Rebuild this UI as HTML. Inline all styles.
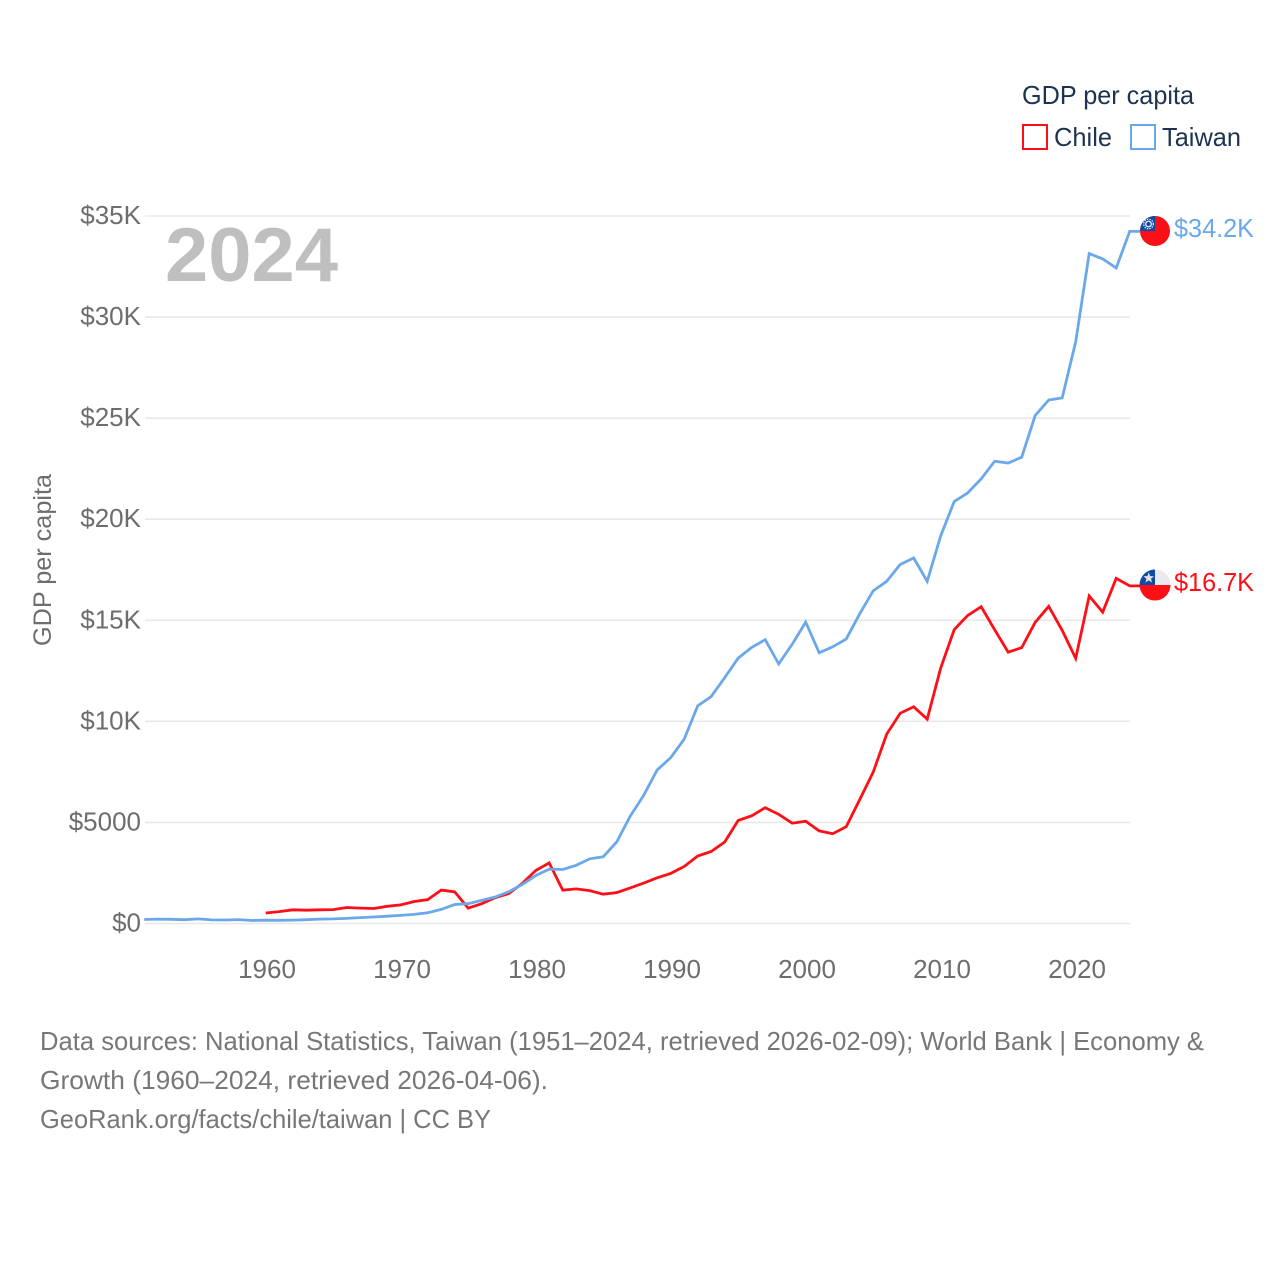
<!DOCTYPE html>
<html lang="en">
<head>
<meta charset="utf-8">
<title>GDP per capita: Chile and Taiwan</title>
<style>
html,body{margin:0;padding:0;background:#fff;}
svg{display:block;}
text{font-family:"Liberation Sans",sans-serif;}
</style>
</head>
<body>
<svg id="chart" xmlns="http://www.w3.org/2000/svg" width="1280" height="1280" viewBox="0 0 1280 1280">
  <rect x="0" y="0" width="1280" height="1280" fill="#fff"/>
  <g id="grid"></g>
  <g id="y-ticks"></g>
  <g id="x-ticks"></g>
  <text x="165" y="281" font-size="76" font-weight="700" fill="#bfbfbf" textLength="173" lengthAdjust="spacingAndGlyphs">2024</text>
  <text transform="translate(51,646) rotate(-90)" font-size="25" fill="#6d6d6d" textLength="172" lengthAdjust="spacingAndGlyphs">GDP per capita</text>
  <g id="lines"></g>

  <g>
    <clipPath id="clip-tw"><circle cx="1155" cy="231" r="15"/></clipPath>
    <g clip-path="url(#clip-tw)">
      <rect x="1140" y="216" width="30" height="30" fill="#fe0f17"/>
      <rect x="1140" y="216" width="15" height="15" fill="#0f4aa6"/>
      <circle cx="1148.5" cy="224" r="2.8" fill="none" stroke="#fff" stroke-width="1.2"/>
      <circle cx="1148.5" cy="224" r="4.8" fill="none" stroke="#fff" stroke-width="1.2" stroke-dasharray="1.4 1.2"/>
    </g>
  </g>
  <g>
    <clipPath id="clip-cl"><circle cx="1155" cy="585" r="15.5"/></clipPath>
    <g clip-path="url(#clip-cl)">
      <rect x="1139" y="569" width="32" height="16" fill="#e9e9ee"/>
      <rect x="1139" y="585" width="32" height="17" fill="#fe0f17"/>
      <rect x="1139" y="569" width="16" height="16" fill="#0f4aa6"/>
      <polygon points="1148.7,572.4 1150.1,576.1 1154,576.3 1151,578.7 1152,582.5 1148.7,580.4 1145.4,582.5 1146.4,578.7 1143.4,576.3 1147.3,576.1" fill="#e2e2e8"/>
    </g>
  </g>

  <text id="taiwan-value" x="1174" y="237" font-size="25.5" fill="#6aa8ea" textLength="80" lengthAdjust="spacingAndGlyphs"></text>
  <text id="chile-value" x="1174" y="591" font-size="25.5" fill="#fe0f17" textLength="80" lengthAdjust="spacingAndGlyphs"></text>

  <g>
    <text x="1022" y="104" font-size="26" fill="#1d3350" textLength="172" lengthAdjust="spacingAndGlyphs">GDP per capita</text>
    <g>
      <rect x="1023" y="125" width="24" height="24" fill="none" stroke="#fe0f17" stroke-width="2"/>
      <text x="1054" y="146" font-size="26" fill="#1d3350" textLength="58" lengthAdjust="spacingAndGlyphs">Chile</text>
    </g>
    <g>
      <rect x="1131" y="125" width="24" height="24" fill="none" stroke="#6aa8ea" stroke-width="2"/>
      <text x="1162" y="146" font-size="26" fill="#1d3350" textLength="79" lengthAdjust="spacingAndGlyphs">Taiwan</text>
    </g>
  </g>

  <g font-size="26" fill="#777">
    <text x="40" y="1050" textLength="1164" lengthAdjust="spacingAndGlyphs">Data sources: National Statistics, Taiwan (1951–2024, retrieved 2026-02-09); World Bank | Economy &amp;</text>
    <text x="40" y="1089" textLength="508" lengthAdjust="spacingAndGlyphs">Growth (1960–2024, retrieved 2026-04-06).</text>
    <text x="40" y="1128" textLength="451" lengthAdjust="spacingAndGlyphs">GeoRank.org/facts/chile/taiwan | CC BY</text>
  </g>
</svg>
<script>
const yTickValues = [0, 5000, 10000, 15000, 20000, 25000, 30000, 35000];
const yTickLabels = ["$0", "$5000", "$10K", "$15K", "$20K", "$25K", "$30K", "$35K"];
const xTickYears = [1960, 1970, 1980, 1990, 2000, 2010, 2020];
const taiwanStartYear = 1951;
const taiwanValues = [196, 220, 210, 190, 230, 180, 175, 195, 150, 165, 160, 170, 190, 220, 230, 250, 290, 320, 360, 400, 450, 530, 700, 940, 980, 1150, 1310, 1570, 1930, 2370, 2690, 2670, 2880, 3200, 3300, 4030, 5310, 6340, 7600, 8200, 9120, 10770, 11230, 12160, 13130, 13660, 14040, 12840, 13810, 14910, 13390, 13690, 14070, 15320, 16460, 16930, 17760, 18080, 16930, 19180, 20870, 21300, 22000, 22870, 22780, 23070, 25130, 25900, 26000, 28780, 33140, 32880, 32430, 34240];
const chileStartYear = 1960;
const chileValues = [520, 590, 680, 660, 680, 690, 790, 760, 740, 850, 920, 1090, 1180, 1650, 1570, 760, 980, 1280, 1480, 1980, 2620, 3000, 1650, 1710, 1630, 1450, 1530, 1760, 2000, 2260, 2480, 2820, 3340, 3560, 4030, 5100, 5330, 5730, 5400, 4960, 5060, 4580, 4440, 4790, 6130, 7490, 9370, 10400, 10720, 10110, 12640, 14540, 15240, 15670, 14530, 13420, 13650, 14900, 15690, 14500, 13120, 16200, 15400, 17070, 16700];
const valueLabels = ["$34.2K", "$16.7K"];

const NS = "http://www.w3.org/2000/svg";
function xScale(year) { return 267 + (year - 1960) * 13.5; }
function xMark(year) { return xScale(year) - 1.3; }
function yScale(value) { return 923.5 - value * 707.5 / 35000; }

const gridGroup = document.getElementById("grid");
const yTickGroup = document.getElementById("y-ticks");
const xTickGroup = document.getElementById("x-ticks");
const lineGroup = document.getElementById("lines");

yTickValues.forEach(function (value, i) {
  const line = document.createElementNS(NS, "line");
  
  
  line.setAttribute("x1", 145);
  line.setAttribute("x2", 1130);
  line.setAttribute("y1", yScale(value));
  line.setAttribute("y2", yScale(value));
  line.setAttribute("stroke", "#e8e8e8");
  line.setAttribute("stroke-width", 1.6);
  gridGroup.appendChild(line);

  const label = document.createElementNS(NS, "text");
  
  
  label.setAttribute("x", 141);
  label.setAttribute("y", yScale(value) + 8);
  label.setAttribute("text-anchor", "end");
  label.setAttribute("font-size", 26);
  label.setAttribute("fill", "#6d6d6d");
  label.textContent = yTickLabels[i];
  yTickGroup.appendChild(label);
});

xTickYears.forEach(function (year) {
  const label = document.createElementNS(NS, "text");
  
  
  label.setAttribute("x", xScale(year));
  label.setAttribute("y", 978);
  label.setAttribute("text-anchor", "middle");
  label.setAttribute("font-size", 26);
  label.setAttribute("fill", "#6d6d6d");
  label.textContent = String(year);
  xTickGroup.appendChild(label);
});

function seriesPoints(values, startYear) {
  const pts = values.map(function (v, i) {
    return xMark(startYear + i).toFixed(1) + "," + yScale(v).toFixed(1);
  });
  pts.push("1140," + yScale(values[values.length - 1]).toFixed(1));
  return pts.join(" ");
}

const chileLine = document.createElementNS(NS, "polyline");


chileLine.setAttribute("points", seriesPoints(chileValues, chileStartYear));
chileLine.setAttribute("fill", "none");
chileLine.setAttribute("stroke", "#fe0f17");
chileLine.setAttribute("stroke-width", 2.8);
chileLine.setAttribute("stroke-linejoin", "miter");
lineGroup.appendChild(chileLine);

const taiwanLine = document.createElementNS(NS, "polyline");


taiwanLine.setAttribute("points", seriesPoints(taiwanValues, taiwanStartYear));
taiwanLine.setAttribute("fill", "none");
taiwanLine.setAttribute("stroke", "#6aa8ea");
taiwanLine.setAttribute("stroke-width", 2.8);
taiwanLine.setAttribute("stroke-linejoin", "miter");
lineGroup.appendChild(taiwanLine);

document.getElementById("taiwan-value").textContent = valueLabels[0];
document.getElementById("chile-value").textContent = valueLabels[1];
</script>
</body>
</html>
